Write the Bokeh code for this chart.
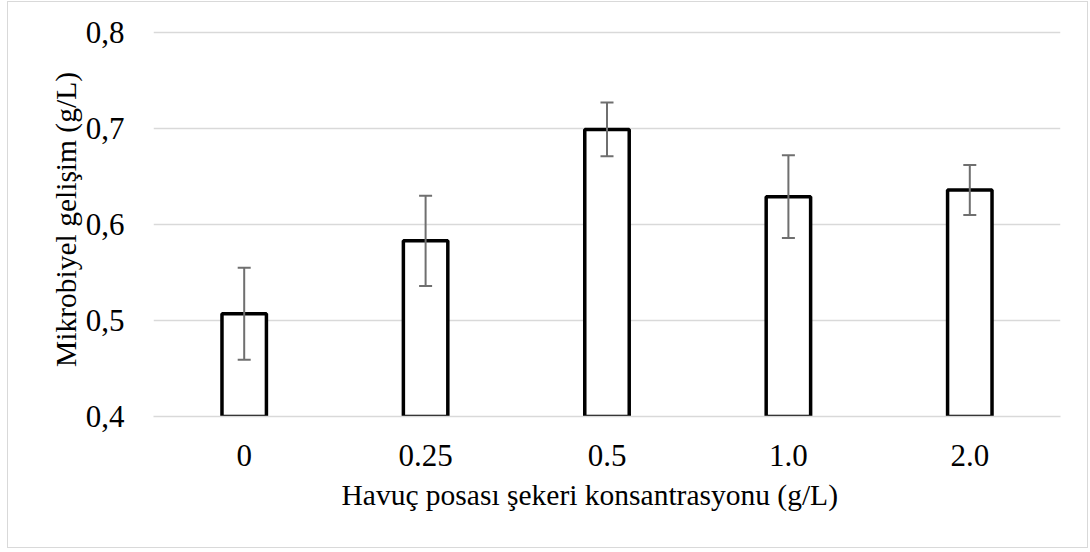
from bokeh.plotting import figure
from bokeh.models import (ColumnDataSource, FactorRange, Range1d, FixedTicker, Whisker, TeeHead,
                          InlineStyleSheet, Title)
from bokeh.embed import file_html
from bokeh.resources import INLINE

categories = ["0", "0.25", "0.5", "1.0", "2.0"]
values = [0.507, 0.583, 0.699, 0.629, 0.636]
errors = [0.048, 0.047, 0.028, 0.043, 0.026]
y_ticks = [0.4, 0.5, 0.6, 0.7, 0.8]
y_tick_labels = ["0,4", "0,5", "0,6", "0,7", "0,8"]
x_title = "Havuç posası şekeri konsantrasyonu (g/L)"
y_title = "Mikrobiyel gelişim (g/L)"

FONT = "Liberation Serif"
ERR = "#6f6f6f"

src = ColumnDataSource(data=dict(
    x=categories,
    top=values,
    upper=[v + e for v, e in zip(values, errors)],
    lower=[v - e for v, e in zip(values, errors)],
))

p = figure(x_range=FactorRange(*categories), y_range=Range1d(0.4, 0.8104),
           width=1081, height=547, output_backend="svg", toolbar_location=None,
           min_border_left=145, min_border_right=29, min_border_top=20, min_border_bottom=133)
p.stylesheets = [InlineStyleSheet(css=":host { border: 1px solid #d9d9d9; margin-left: 7px; margin-top: 1px; }")]
p.outline_line_color = None
p.background_fill_color = "white"
p.border_fill_color = "white"

p.vbar(x="x", top="top", bottom=0.4, width=0.245, source=src,
       fill_color="white", line_color="black", line_width=3.5)

w = Whisker(base="x", upper="upper", lower="lower", source=src, level="overlay",
            line_color=ERR, line_width=2,
            upper_head=TeeHead(size=13, line_color=ERR, line_width=2),
            lower_head=TeeHead(size=13, line_color=ERR, line_width=2))
p.add_layout(w)

p.yaxis.ticker = FixedTicker(ticks=y_ticks)
p.yaxis.major_label_overrides = {t: l for t, l in zip(y_ticks, y_tick_labels)}
p.ygrid.ticker = FixedTicker(ticks=y_ticks)
p.ygrid.grid_line_color = "#d9d9d9"
p.ygrid.grid_line_width = 1.5
p.xgrid.grid_line_color = None

for ax in (p.xaxis, p.yaxis):
    ax.major_tick_line_color = None
    ax.minor_tick_line_color = None
    ax.major_label_text_font = FONT
    ax.major_label_text_font_size = "31px"
    ax.major_label_text_color = "black"
    ax.axis_label_text_font = FONT
    ax.axis_label_text_font_size = "29.5px"
    ax.axis_label_text_font_style = "normal"
    ax.axis_label_text_color = "black"

p.yaxis.axis_line_color = None
p.xaxis.axis_line_color = "#d9d9d9"
p.xaxis.axis_line_width = 1.5
p.yaxis.major_label_standoff = 23
p.xaxis.major_label_standoff = 22
p.yaxis.axis_label = y_title
p.yaxis.axis_label_standoff = 1

# x-axis title, placed as in the original (centred on the chart area rather than the plot frame)
p.add_layout(Title(text=x_title, align="left", offset=188, standoff=16,
                   text_font=FONT, text_font_size="29.5px", text_font_style="normal",
                   text_color="black"), "below")

open("out.html", "w").write(file_html(p, INLINE))
